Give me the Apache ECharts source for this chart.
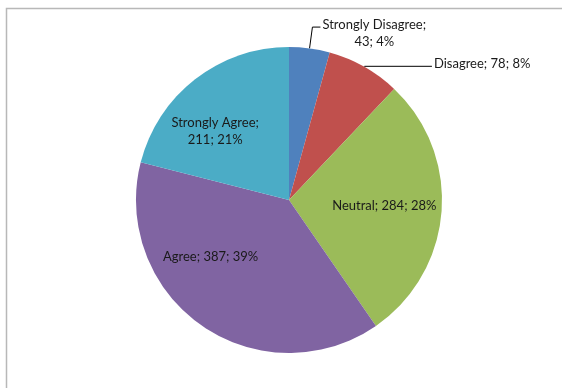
<!DOCTYPE html>
<html>
<head>
<meta charset="utf-8">
<script src="https://cdn.jsdelivr.net/npm/echarts@6/dist/echarts.min.js"></script>
<style>
  html, body { margin: 0; padding: 0; background: #fff; }
  #chart { width: 562px; height: 388px; }
</style>
</head>
<body>
<div id="chart"></div>
<script>
// Survey responses, in drawing order (clockwise from 12 o'clock)
const categories = ['Strongly Disagree', 'Disagree', 'Neutral', 'Agree', 'Strongly Agree'];
const counts = [43, 78, 284, 387, 211];
const colors = ['#4F81BD', '#C0504D', '#9BBB59', '#8064A2', '#4BACC6'];

const total = counts.reduce((a, b) => a + b, 0);

// Per-slice label placement: the two small slices get leader lines, the rest sit inside.
// "wrap" breaks the label after the category name; "spacerTop/Bottom" nudge an
// outside label relative to the end of its leader line.
const labelStyles = [
  { position: 'outside', wrap: true, spacerTop: 12, line: { length: 21.5, length2: 8 } },
  { position: 'outside', wrap: false, spacerBottom: 5, line: { length: 0.5, length2: 67.5 } },
  { position: 'inside', wrap: false, offset: [16, 0] },
  { position: 'inside', wrap: false, offset: [-33, -8] },
  { position: 'inside', wrap: true, offset: [-25, -6] }
];

const FONT = 'Lato';
const FONT_SIZE = 13;
const TEXT_COLOR = '#1a1a1a';

const data = categories.map((name, i) => {
  const pct = Math.round(counts[i] / total * 100);
  const ls = labelStyles[i];
  const head = name + ';';
  const tail = counts[i] + '; ' + pct + '%';
  const lines = ls.wrap ? [head, tail] : [head + ' ' + tail];
  let parts = lines.map(t => '{t|' + t + '}');
  if (ls.spacerTop) parts.unshift('{s| }');
  if (ls.spacerBottom) parts.push('{b| }');

  const item = {
    name: name,
    value: counts[i],
    itemStyle: { color: colors[i] },
    label: {
      show: true,
      position: ls.position,
      formatter: parts.join('\n'),
      fontFamily: FONT,
      fontSize: FONT_SIZE,
      color: TEXT_COLOR,
      rich: {
        t: { fontFamily: FONT, fontSize: FONT_SIZE, color: TEXT_COLOR, lineHeight: 17, align: 'center' },
        s: { fontSize: 4, lineHeight: ls.spacerTop || 1 },
        b: { fontSize: 4, lineHeight: ls.spacerBottom || 1 }
      }
    }
  };
  if (ls.offset) item.label.offset = ls.offset;
  if (ls.line) {
    item.labelLine = {
      show: true,
      length: ls.line.length,
      length2: ls.line.length2,
      smooth: false,
      lineStyle: { color: '#000', width: 1 }
    };
    item.label.distanceToLabelLine = 2;
  }
  return item;
});

const chart = echarts.init(document.getElementById('chart'), null, { renderer: 'canvas' });
chart.setOption({
  animation: false,
  backgroundColor: '#fff',
  graphic: [{
    type: 'rect',
    shape: { x: 6.5, y: 8.5, width: 600, height: 420 },
    style: { fill: 'none', stroke: '#b8b8b8', lineWidth: 1.5 },
    z: -1
  }],
  series: [{
    type: 'pie',
    center: [289, 200],
    radius: 153,
    startAngle: 90,
    clockwise: true,
    avoidLabelOverlap: false,
    itemStyle: { borderWidth: 0 },
    emphasis: { disabled: true },
    data: data
  }]
});
</script>
</body>
</html>
